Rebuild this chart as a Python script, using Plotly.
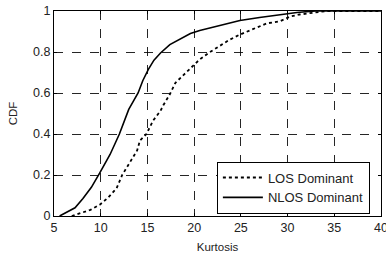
import plotly.graph_objects as go

# NLOS Dominant (solid)
nlos_x = [5.6, 6.5, 7.25, 8.1, 9.0, 9.9, 11.0, 12.0, 13.0, 13.5, 14.0, 14.5, 15.1, 15.7, 16.4, 17.4, 18.5, 19.6, 20.6, 21.7, 22.8, 24.0, 24.9, 27.0, 29.2, 31.0, 33.0, 40.0]
nlos_y = [0.0, 0.02, 0.04, 0.085, 0.14, 0.21, 0.30, 0.40, 0.52, 0.56, 0.60, 0.66, 0.715, 0.76, 0.795, 0.836, 0.865, 0.89, 0.905, 0.918, 0.93, 0.943, 0.954, 0.968, 0.98, 0.993, 1.0, 1.0]

# LOS Dominant (dotted)
los_x = [6.9, 8.0, 8.9, 9.9, 10.8, 11.7, 12.3, 13.1, 13.9, 14.2, 14.9, 15.6, 16.4, 16.7, 17.4, 18.0, 18.9, 19.9, 20.6, 21.7, 22.8, 23.8, 24.9, 26.4, 27.8, 29.2, 30.3, 31.3, 32.4, 34.2, 40.0]
los_y = [0.0, 0.015, 0.03, 0.055, 0.09, 0.135, 0.2, 0.26, 0.32, 0.368, 0.40, 0.465, 0.513, 0.54, 0.594, 0.65, 0.69, 0.73, 0.764, 0.80, 0.83, 0.86, 0.885, 0.915, 0.94, 0.95, 0.973, 0.983, 0.99, 1.0, 1.0]

x_ticks = [5, 10, 15, 20, 25, 30, 35, 40]
y_ticks = [0, 0.2, 0.4, 0.6, 0.8, 1]
y_tick_labels = ["0", "0.2", "0.4", "0.6", "0.8", "1"]

FONT = "Liberation Sans, Arial, sans-serif"
TXT = "#222"

fig = go.Figure()
fig.add_trace(go.Scatter(x=los_x, y=los_y, mode="lines", name="LOS Dominant",
                         legendgroup="los",
                         line=dict(color="black", width=1.8, dash="dot")))
fig.add_trace(go.Scatter(x=nlos_x, y=nlos_y, mode="lines", name="NLOS Dominant",
                         legendgroup="nlos",
                         line=dict(color="black", width=1.6)))

axis_common = dict(
    showline=True, linecolor="black", linewidth=1, mirror="ticks",
    ticks="inside", ticklen=3, tickcolor="black",
    showgrid=True, gridcolor="rgba(0,0,0,0.85)", griddash="dash", gridwidth=1,
    zeroline=False, automargin=False, ticklabeloverflow="allow",
    tickfont=dict(family=FONT, size=12.5, color=TXT),
)

fig.update_xaxes(range=[5, 40], tickvals=x_ticks, ticktext=[str(v) for v in x_ticks],
                 title=dict(text="Kurtosis", font=dict(family=FONT, size=11.5, color=TXT), standoff=8),
                 **axis_common)
fig.update_yaxes(range=[0, 1], tickvals=y_ticks, ticktext=y_tick_labels,
                 title=dict(text="CDF", font=dict(family=FONT, size=11.5, color=TXT), standoff=13),
                 **axis_common)

fig.update_layout(
    width=386, height=259,
    margin=dict(l=54, r=5, t=11, b=43),
    paper_bgcolor="white", plot_bgcolor="white",
    showlegend=True,
    legend=dict(x=0.966, y=0.012, xanchor="right", yanchor="bottom",
                bgcolor="white", bordercolor="black", borderwidth=1,
                font=dict(family=FONT, size=13, color=TXT),
                tracegroupgap=0, itemwidth=40),
)

# remove the page's default body margin so the figure sits at the window's top-left corner
fig.write_html("out.html", config={"displayModeBar": False},
               post_script="document.body.style.margin='0';")
